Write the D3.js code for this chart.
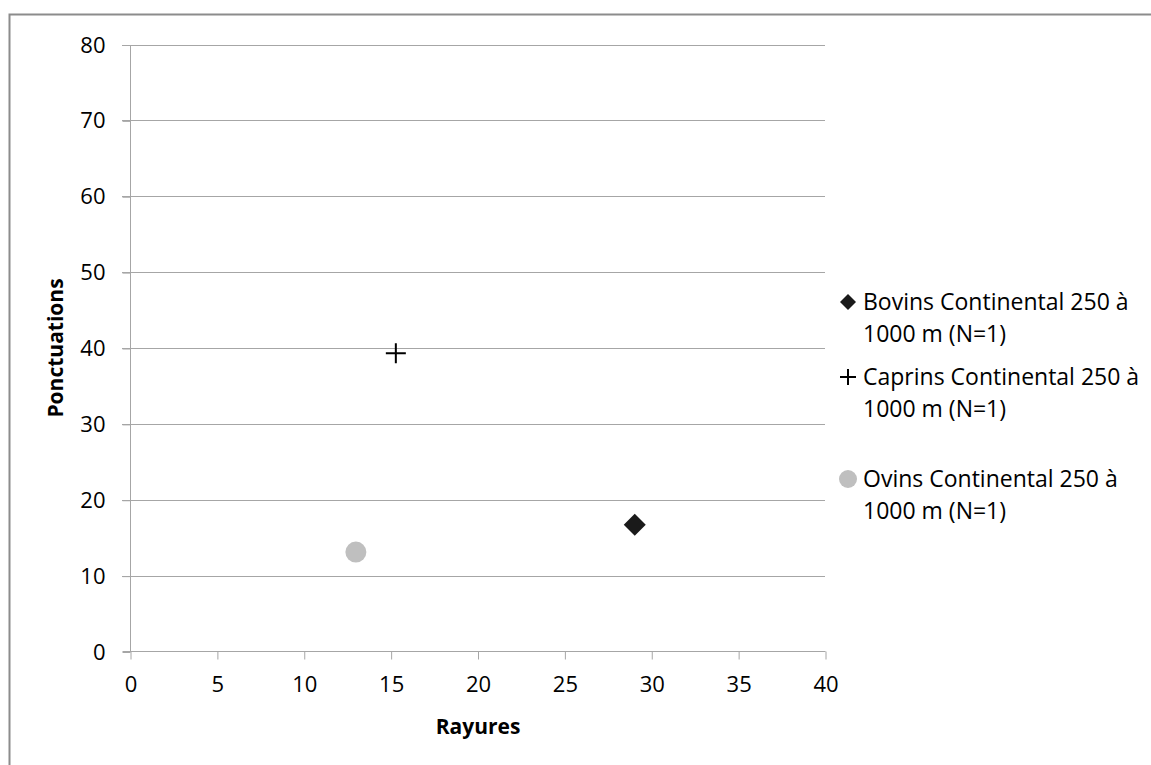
<!DOCTYPE html>
<html><head><meta charset="utf-8">
<script src="https://cdn.jsdelivr.net/npm/d3@7"></script>
<style>body{margin:0;background:#fff;} svg{display:block;}</style>
</head><body>
<svg id="c" width="1151" height="765"></svg>
<script>
const seriesNames = ["Bovins Continental 250 à 1000 m (N=1)", "Caprins Continental 250 à 1000 m (N=1)", "Ovins Continental 250 à 1000 m (N=1)"];
const legendLines = [["Bovins Continental 250 à", "1000 m (N=1)"], ["Caprins Continental 250 à", "1000 m (N=1)"], ["Ovins Continental 250 à", "1000 m (N=1)"]];
const rayures = [29.05, 15.3, 13.0];
const ponctuations = [16.7, 39.3, 13.1];
const markers = ["diamond", "plus", "circle"];
const xTicks = [0, 5, 10, 15, 20, 25, 30, 35, 40];
const yTicks = [0, 10, 20, 30, 40, 50, 60, 70, 80];

const svg = d3.select("#c");
const font = "'Open Sans', 'Noto Sans', sans-serif";
const grid = "#a6a6a6";
const x = d3.scaleLinear().domain([0, 40]).range([130, 825]);
const y = d3.scaleLinear().domain([0, 80]).range([651.5, 44.5]);

// frame
svg.append("rect").attr("x", 9.5).attr("y", 14.5).attr("width", 1160).attr("height", 800)
  .attr("fill", "none").attr("stroke", "#8c8c8c").attr("stroke-width", 2);

// gridlines
svg.append("g").selectAll("line").data(yTicks.filter(d => d > 0)).join("line")
  .attr("x1", 122).attr("x2", 825).attr("y1", d => Math.round(y(d)) + 0.5).attr("y2", d => Math.round(y(d)) + 0.5)
  .attr("stroke", grid).attr("stroke-width", 1);

// y axis
const ya = svg.append("g").attr("transform", "translate(130.5,0.5)")
  .call(d3.axisLeft(y).tickValues(yTicks).tickSize(8).tickPadding(17).tickFormat(d3.format("d")));
ya.select(".domain").attr("stroke", grid).attr("d", `M0,${y(80)}V${y(0)}`);
ya.selectAll(".tick line").attr("stroke", grid);
ya.selectAll("text").attr("font-family", font).attr("font-size", 22).attr("fill", "#000");

// x axis
const xa = svg.append("g").attr("transform", "translate(0.5,651.5)")
  .call(d3.axisBottom(x).tickValues(xTicks).tickSize(8).tickPadding(17).tickFormat(d3.format("d")));
xa.select(".domain").attr("stroke", grid).attr("d", `M122,0H${x(40)}`);
xa.selectAll(".tick line").attr("stroke", grid);
xa.selectAll("text").attr("font-family", font).attr("font-size", 22).attr("fill", "#000");

// axis titles
svg.append("text").attr("x", 478).attr("y", 727).attr("dy", "0.35em").attr("text-anchor", "middle")
  .attr("font-family", font).attr("font-weight", "bold").attr("font-size", 21).text("Rayures");
svg.append("text").attr("transform", "translate(56,348) rotate(-90)").attr("dy", "0.35em").attr("text-anchor", "middle")
  .attr("font-family", font).attr("font-weight", "bold").attr("font-size", 21).text("Ponctuations");

function drawMarker(g, type, size) {
  if (type === "diamond") {
    g.append("path").attr("d", `M0,${-size}L${size},0L0,${size}L${-size},0Z`).attr("fill", "#1a1a1a");
  } else if (type === "plus") {
    g.append("path").attr("d", `M${-size},0H${size}M0,${-size}V${size}`).attr("stroke", "#000").attr("stroke-width", 2).attr("fill", "none");
  } else {
    g.append("circle").attr("r", size).attr("fill", "#bfbfbf");
  }
}
const markerSize = [11, 10, 10.5];
const legSize = [8, 8, 9];

// points
rayures.forEach((v, i) => {
  const g = svg.append("g").attr("transform", `translate(${x(v)},${y(ponctuations[i])})`);
  drawMarker(g, markers[i], markerSize[i]);
});

// legend
const legY = [302, 377, 479];
legendLines.forEach((lines, i) => {
  const g = svg.append("g").attr("transform", `translate(848,${legY[i]})`);
  drawMarker(g, markers[i], legSize[i]);
  lines.forEach((t, j) => {
    g.append("text").attr("x", 15).attr("y", j * 32).attr("dy", "0.35em")
      .attr("font-family", font).attr("font-size", 23).attr("fill", "#000").text(t);
  });
});
</script>
</body></html>
